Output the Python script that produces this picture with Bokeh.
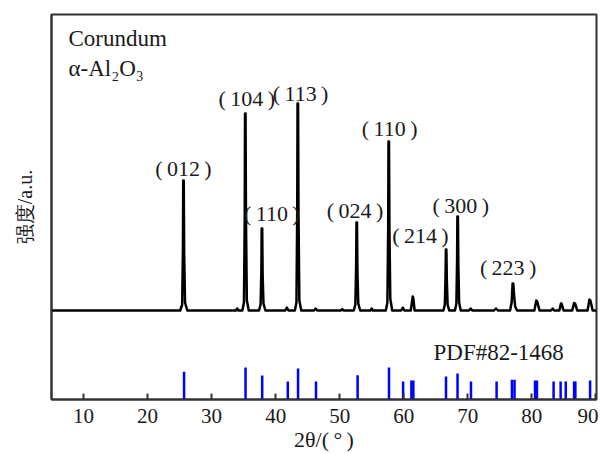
from bokeh.plotting import figure
from bokeh.models import Range1d, FixedTicker, Label, ColumnDataSource
from bokeh.core.properties import value
from bokeh.embed import file_html
from bokeh.resources import INLINE

# ---------------- data ----------------
# measured XRD pattern (2theta, intensity a.u. above baseline), vertices read from the picture
two_theta = [5.0,
             25.1, 25.4, 25.52, 25.57, 25.65, 25.72, 25.85, 26.2,
             33.8, 34.0, 34.2,
             34.8, 35.05, 35.17, 35.22, 35.30, 35.37, 35.5, 35.8,
             37.4, 37.65, 37.77, 37.82, 37.9, 37.97, 38.1, 38.4,
             41.5, 41.75, 42.0,
             43.0, 43.25, 43.37, 43.42, 43.5, 43.57, 43.7, 44.0,
             46.0, 46.25, 46.5,
             50.2, 50.4, 50.6,
             52.2, 52.45, 52.57, 52.62, 52.7, 52.77, 52.9, 53.2,
             54.8, 55.0, 55.2,
             57.2, 57.45, 57.57, 57.62, 57.7, 57.77, 57.9, 58.2,
             59.6, 59.85, 60.1,
             61.1, 61.3, 61.4, 61.5, 61.7,
             66.2, 66.42, 66.53, 66.58, 66.66, 66.73, 66.85, 67.1,
             68.0, 68.22, 68.33, 68.38, 68.46, 68.53, 68.65, 68.9,
             70.2, 70.45, 70.7,
             74.1, 74.4, 74.7,
             76.6, 76.85, 77.0, 77.1, 77.25, 77.4, 77.7,
             80.4, 80.7, 80.85, 81.2,
             83.0, 83.25, 83.5,
             84.3, 84.55, 84.65, 84.95,
             86.3, 86.6, 86.75, 87.1,
             88.7, 89.0, 89.15, 89.5,
             90.1]
intensity = [0,
             0, 6, 60, 130, 130, 55, 8, 0,
             0, 2, 0,
             0, 8, 90, 197, 197, 90, 10, 0,
             0, 6, 40, 82, 82, 35, 7, 0,
             0, 3, 0,
             0, 8, 100, 207, 207, 95, 10, 0,
             0, 2, 0,
             0, 1.5, 0,
             0, 6, 45, 88, 88, 40, 7, 0,
             0, 2, 0,
             0, 8, 80, 169, 169, 80, 12, 0,
             0, 3, 0,
             0, 9, 14, 12, 0,
             0, 6, 35, 61, 61, 30, 6, 0,
             0, 7, 50, 94, 94, 45, 8, 0,
             0, 2, 0,
             0, 2, 0,
             0, 8, 27, 27, 14, 4, 0,
             0, 10, 9, 0,
             0, 2, 0,
             0, 7, 7, 0,
             0, 7.5, 7, 0,
             0, 11, 10, 0,
             0]

# PDF#82-1468 reference lines (2theta, relative intensity)
pdf_pos = [25.7, 35.3, 37.9, 41.9, 43.5, 46.3, 52.8, 57.7, 59.9, 61.2, 61.5,
           66.6, 68.4, 70.5, 74.5, 76.9, 77.3, 80.5, 80.8, 83.4, 84.5, 85.3,
           86.6, 86.8, 89.1]
pdf_int = [87, 100, 75, 56, 97, 56, 76, 100, 56, 59, 59,
           72, 81, 56, 56, 62, 62, 59, 59, 56, 56, 56,
           56, 56, 59]

# peak annotations (hkl label, label position)
hkl_text = ["(\u2009012\u2009)", "(\u2009104\u2009)", "(\u2009113\u2009)", "(\u2009110\u2009)",
            "(\u2009024\u2009)", "(\u2009110\u2009)", "(\u2009214\u2009)", "(\u2009300\u2009)",
            "(\u2009223\u2009)"]
hkl_x = [25.6, 35.5, 43.9, 39.4, 52.4, 57.8, 62.6, 68.9, 76.3]
hkl_y = [142, 212, 217, 97, 100, 182, 75, 105, 43]

x_ticks = [10, 20, 30, 40, 50, 60, 70, 80, 90]

# ---------------- style ----------------
FONT = "Liberation Serif"
FRAME = "#333333"
TEXT = "#1a1a1a"
Y_START, Y_END = -89, 296
STICK_SCALE = 0.32

p = figure(width=598, height=454, output_backend="svg", toolbar_location=None,
           x_range=Range1d(5, 90.1), y_range=Range1d(Y_START, Y_END),
           min_border_left=51, min_border_right=2, min_border_top=14, min_border_bottom=55)
p.grid.visible = False
p.outline_line_color = FRAME
p.outline_line_width = 2
p.background_fill_color = "white"
p.border_fill_color = "white"

xa = p.xaxis[0]
xa.ticker = FixedTicker(ticks=x_ticks)
xa.minor_tick_line_color = None
xa.major_tick_in = 6
xa.major_tick_out = 0
xa.major_tick_line_width = 2
xa.major_tick_line_color = FRAME
xa.axis_line_color = FRAME
xa.axis_line_width = 2
xa.major_label_text_font = FONT
xa.major_label_text_font_size = "21px"
xa.major_label_text_color = TEXT
xa.major_label_standoff = 9
xa.axis_label = "2θ/(\u2009°\u2009)"
xa.axis_label_text_font = FONT
xa.axis_label_text_font_style = "normal"
xa.axis_label_text_font_size = "22px"
xa.axis_label_text_color = TEXT
xa.axis_label_standoff = 1

ya = p.yaxis[0]
ya.ticker = FixedTicker(ticks=[])
ya.minor_tick_line_color = None
ya.major_tick_out = 0
ya.major_tick_in = 0
ya.major_label_standoff = 0
ya.axis_line_color = FRAME
ya.axis_line_width = 2
ya.axis_label = "强度/a.u."
ya.axis_label_text_font = FONT
ya.axis_label_text_font_style = "normal"
ya.axis_label_text_font_size = "20px"
ya.axis_label_text_color = TEXT
ya.axis_label_standoff = 16

# reference sticks
stick_src = ColumnDataSource(dict(x=pdf_pos,
                                  y0=[Y_START] * len(pdf_pos),
                                  y1=[Y_START + v * STICK_SCALE for v in pdf_int]))
p.segment(x0="x", y0="y0", x1="x", y1="y1", source=stick_src,
          line_color="#0000ff", line_width=2.5)

# measured pattern
p.line(two_theta, intensity, line_color="black", line_width=2.5, line_join="round")

# hkl labels
p.text(x=hkl_x, y=hkl_y, text=hkl_text, text_font=value(FONT), text_font_size="22px",
       text_align="center", text_baseline="middle", text_color=TEXT)

def add_label(txt, x, y, size="23px"):
    p.add_layout(Label(x=x, y=y, x_units="screen", y_units="screen", text=txt,
                       text_font=FONT, text_font_size=size,
                       text_align="left", text_baseline="middle", text_color=TEXT))

add_label("Corundum", 17, 361)
add_label("α-Al\u2082O\u2083", 17, 331)
add_label("PDF#82-1468", 382, 47)

open("out.html", "w").write(file_html(p, INLINE))
